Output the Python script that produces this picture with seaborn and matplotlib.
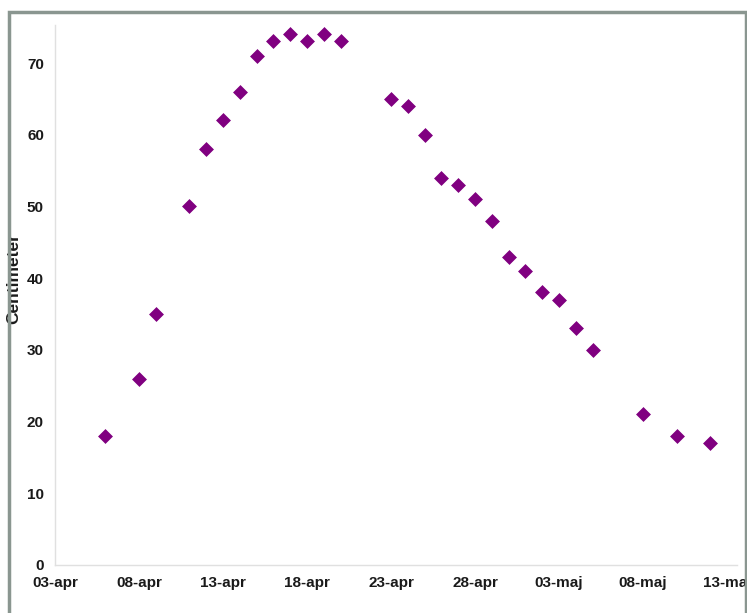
import matplotlib
matplotlib.use("Agg")
import matplotlib.pyplot as plt
import matplotlib.dates as mdates
from matplotlib.ticker import FuncFormatter
from matplotlib.patches import Rectangle
import seaborn as sns
import pandas as pd

dates = ["2008-04-06", "2008-04-08", "2008-04-09", "2008-04-11", "2008-04-12",
         "2008-04-13", "2008-04-14", "2008-04-15", "2008-04-16", "2008-04-17",
         "2008-04-18", "2008-04-19", "2008-04-20", "2008-04-23", "2008-04-24",
         "2008-04-25", "2008-04-26", "2008-04-27", "2008-04-28", "2008-04-29",
         "2008-04-30", "2008-05-01", "2008-05-02", "2008-05-03", "2008-05-04",
         "2008-05-05", "2008-05-08", "2008-05-10", "2008-05-12"]
centimeter = [18, 26, 35, 50, 58, 62, 66, 71, 73, 74, 73, 74, 73, 65, 64,
              60, 54, 53, 51, 48, 43, 41, 38, 37, 33, 30, 21, 18, 17]
tick_dates = ["2008-04-03", "2008-04-08", "2008-04-13", "2008-04-18", "2008-04-23",
              "2008-04-28", "2008-05-03", "2008-05-08", "2008-05-13"]
month_names = {4: "apr", 5: "maj"}
y_label = "Centimeter"

sns.set_style("white")
plt.rcParams["font.family"] = ["Liberation Sans Narrow", "Liberation Sans", "DejaVu Sans"]

df = pd.DataFrame({"date": pd.to_datetime(dates), "cm": centimeter})

fig = plt.figure(figsize=(7.47, 6.13), dpi=100)
ax = fig.add_axes([55 / 747, 48 / 613, 682 / 747, 540 / 613])

sns.scatterplot(data=df, x="date", y="cm", marker="D", s=50, color="#800080",
                edgecolor="#800080", linewidth=0.5, ax=ax, legend=False)

start = pd.Timestamp("2008-04-03")
ax.set_xlim(mdates.date2num(start), mdates.date2num(start) + 40.6)
ax.set_ylim(0, 75.3)
ax.set_yticks(range(0, 80, 10))
ax.set_xticks(mdates.date2num(pd.to_datetime(tick_dates)))

def fmt(x, pos):
    d = mdates.num2date(x)
    return f"{d.day:02d}-{month_names.get(d.month, '')}"

ax.xaxis.set_major_formatter(FuncFormatter(fmt))

for side in ["top", "right"]:
    ax.spines[side].set_visible(False)
for side in ["left", "bottom"]:
    ax.spines[side].set_color("#e0e0e0")
    ax.spines[side].set_linewidth(1.0)

ax.tick_params(axis="both", which="major", direction="out", length=4, width=1,
               color="#dcdcdc", labelsize=11, pad=4)
for lab in ax.get_xticklabels() + ax.get_yticklabels():
    lab.set_fontweight("bold")
    lab.set_color("#1a1a1a")

ax.set_xlabel("")
ax.set_ylabel(y_label, fontsize=12.5, fontweight="bold", color="#1a1a1a")
ax.yaxis.set_label_coords(-34 / 682, 0.531)

fig.patches.append(Rectangle((9 / 747, -0.05), 737 / 747, 1.05 - 12 / 613,
                             transform=fig.transFigure, fill=False,
                             edgecolor="#8a9690", linewidth=2.5, zorder=0))

fig.savefig("out.png", dpi=100)
